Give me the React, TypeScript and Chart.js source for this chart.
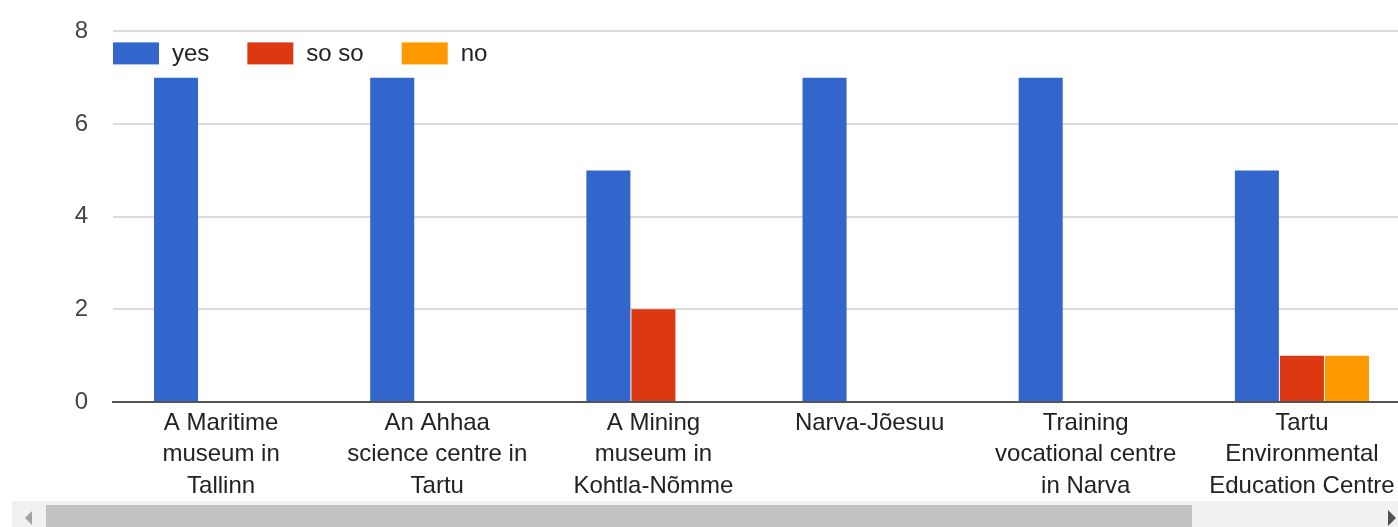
import React, { useEffect, useRef } from "react";
import { Chart, registerables } from "chart.js";

Chart.register(...registerables);

const categories: string[][] = [
  ["A Maritime", "museum in", "Tallinn"],
  ["An Ahhaa", "science centre in", "Tartu"],
  ["A Mining", "museum in", "Kohtla-Nõmme"],
  ["Narva-Jõesuu"],
  ["Training", "vocational centre", "in Narva"],
  ["Tartu", "Environmental", "Education Centre"],
];

const yesValues = [7, 7, 5, 7, 7, 5];
const sosoValues = [0, 0, 2, 0, 0, 1];
const noValues = [0, 0, 0, 0, 0, 1];

const seriesNames = ["yes", "so so", "no"];
const seriesColors = ["#3366cc", "#dc3912", "#ff9900"];

const yTicks = [0, 2, 4, 6, 8];

const FONT = '"Liberation Sans", Arial, sans-serif';

const insideLegend = {
  id: "insideLegend",
  afterDraw(chart: any) {
    const ctx = chart.ctx;
    const left = chart.chartArea.left;
    const top = chart.chartArea.top + 11;
    const boxW = 46;
    const boxH = 22;
    ctx.save();
    ctx.font = `24px ${FONT}`;
    ctx.textBaseline = "middle";
    ctx.textAlign = "left";
    let x = left;
    chart.data.datasets.forEach((ds: any) => {
      ctx.fillStyle = ds.backgroundColor;
      ctx.fillRect(x, top, boxW, boxH);
      x += boxW + 13;
      ctx.fillStyle = "#222222";
      ctx.fillText(ds.label, x, top + boxH / 2 + 1);
      x += ctx.measureText(ds.label).width + 38;
    });
    ctx.restore();
  },
};

export default function App() {
  const canvasRef = useRef<HTMLCanvasElement | null>(null);

  useEffect(() => {
    if (!canvasRef.current) return;
    const values = [yesValues, sosoValues, noValues];
    const chart = new Chart(canvasRef.current, {
      type: "bar",
      data: {
        labels: categories,
        datasets: values.map((v, i) => ({
          label: seriesNames[i],
          data: v,
          backgroundColor: seriesColors[i],
          borderWidth: 0,
          categoryPercentage: 0.625,
          barPercentage: 0.978,
        })),
      },
      plugins: [insideLegend],
      options: {
        animation: false,
        responsive: true,
        maintainAspectRatio: false,
        layout: { padding: { top: 22, left: 0, right: 0, bottom: 0 } },
        plugins: {
          legend: { display: false },
          tooltip: { enabled: false },
        },
        scales: {
          x: {
            grid: { display: false, drawTicks: false },
            border: { display: true, color: "#555555", width: 2 },
            ticks: {
              color: "#222222",
              font: { family: FONT, size: 24, lineHeight: 1.3 },
              padding: 6,
              maxRotation: 0,
              minRotation: 0,
              autoSkip: false,
            },
            afterFit: (scale: any) => {
              scale.height = 98;
            },
          },
          y: {
            min: 0,
            max: 8,
            afterBuildTicks: (scale: any) => {
              scale.ticks = yTicks.map((v) => ({ value: v }));
            },
            grid: {
              color: (c: any) => (c.tick && c.tick.value === 0 ? "rgba(0,0,0,0)" : "#dadada"),
              lineWidth: 2,
              drawTicks: false,
            },
            border: { display: false },
            ticks: {
              color: "#444444",
              font: { family: FONT, size: 24 },
              padding: 25,
            },
            afterFit: (scale: any) => {
              scale.width = 113;
            },
          },
        },
      },
    });
    return () => chart.destroy();
  }, []);

  return (
    <div
      style={{
        position: "fixed",
        left: 0,
        top: 0,
        width: 1398,
        height: 527,
        overflow: "hidden",
        background: "#ffffff",
      }}
    >
      <div style={{ position: "absolute", left: 0, top: -8, width: 1410, height: 508 }}>
        <canvas ref={canvasRef} />
      </div>
      <div
        style={{
          position: "absolute",
          left: 12,
          top: 501,
          width: 1386,
          height: 26,
          background: "#f1f1f1",
        }}
      />
      <div
        style={{
          position: "absolute",
          left: 46,
          top: 505,
          width: 1146,
          height: 22,
          background: "#c1c1c1",
        }}
      />
      <div
        style={{
          position: "absolute",
          left: 25,
          top: 511,
          width: 0,
          height: 0,
          borderTop: "7px solid transparent",
          borderBottom: "7px solid transparent",
          borderRight: "7px solid #a3a3a3",
        }}
      />
      <div
        style={{
          position: "absolute",
          left: 1388,
          top: 510,
          width: 0,
          height: 0,
          borderTop: "8px solid transparent",
          borderBottom: "8px solid transparent",
          borderLeft: "8px solid #505050",
        }}
      />
    </div>
  );
}
